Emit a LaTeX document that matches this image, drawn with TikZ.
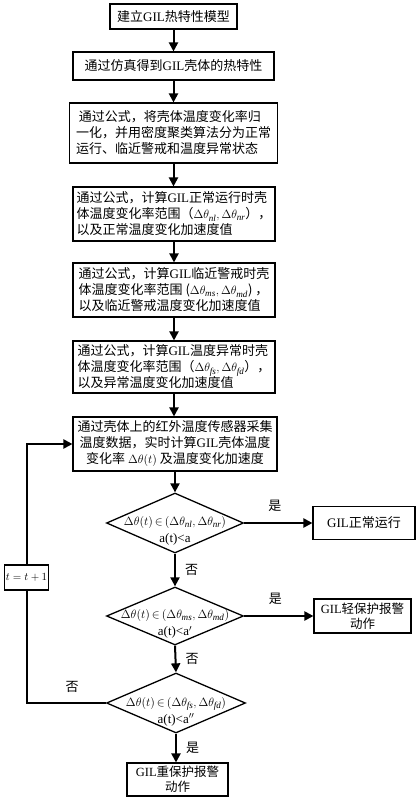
\documentclass[tikz,border=0pt]{standalone}
\usepackage{fontspec}
\setmainfont{Liberation Serif}
\newfontfamily\cjk{Noto Sans CJK SC}
\usetikzlibrary{shapes.geometric,arrows.meta}
\newcommand\gil{{\rmfamily GIL}}
\newcommand\dt[1]{\Delta\theta_{\mathit{#1}}}
\newcommand\inn{\mathord{\,\in\,}}
\begin{document}
\begin{tikzpicture}[x=1pt,y=-1pt,
  box/.style={draw, line width=1.1pt, inner sep=2pt, font=\cjk\fontsize{13}{16}\selectfont},
  dia/.style={draw, diamond, line width=1.3pt, inner sep=0pt},
  dtext/.style={font=\fontsize{13}{17}\selectfont, align=center, inner sep=0pt},
  arr/.style={line width=2pt, -{Triangle[length=9pt,width=9pt]}},
  lin/.style={line width=2pt},
  lbl/.style={font=\cjk\fontsize{13}{16}\selectfont, inner sep=0pt}]
\useasboundingbox (0,0) rectangle (420,800);
\node[box, minimum width=127pt, minimum height=25pt] (b1) at (173.5,16.5) {建立\gil 热特性模型};
\node[box, minimum width=201pt, minimum height=28pt] (b2) at (173.5,66) {通过仿真得到\gil 壳体的热特性};
\node[box, minimum width=208pt, minimum height=60pt, align=left] (b3) at (173.5,133) {\ 通过公式，将壳体温度变化率归\\一化，并用密度聚类算法分为正常\\运行、临近警戒和温度异常状态};
\node[box, minimum width=202pt, minimum height=54pt, align=left] (b4) at (174,214) {通过公式，计算\gil 正常运行时壳\\体温度变化率范围（$\dt{nl},\dt{nr}$），\\以及正常温度变化加速度值};
\node[box, minimum width=202pt, minimum height=54pt, align=left] (b5) at (174,290) {通过公式，计算\gil 临近警戒时壳\\体温度变化率范围 ($\dt{ms},\dt{md}$) ，\\以及临近警戒温度变化加速度值};
\node[box, minimum width=202pt, minimum height=52pt, align=left] (b6) at (174,367) {通过公式，计算\gil 温度异常时壳\\体温度变化率范围（$\dt{fs},\dt{fd}$），\\以及异常温度变化加速度值};
\node[box, minimum width=204pt, minimum height=54pt, align=center] (b7) at (175,444) {通过壳体上的红外温度传感器采集\\温度数据，实时计算\gil 壳体温度\\变化率 $\Delta\theta(t)$ 及温度变化加速度};
\node[dia, minimum width=137pt, minimum height=60pt] (d1) at (175,523) {};
\node[dtext] (t1) at (175,531) {$\Delta\theta(t)\inn(\dt{nl},\dt{nr})$\\a(t)<a};
\node[box, minimum width=102pt, minimum height=33pt] (b8) at (364,523) {\gil 正常运行};
\node[dia, minimum width=137pt, minimum height=58pt] (d2) at (175,616) {};
\node[dtext] (t2) at (175,624) {$\Delta\theta(t)\inn(\dt{ms},\dt{md})$\\a(t)<a$'$};
\node[box, minimum width=97pt, minimum height=34pt, align=center, font=\cjk\fontsize{12.5}{15}\selectfont] (b9) at (362.5,616) {\gil 轻保护报警\\动作};
\node[dia, minimum width=139pt, minimum height=60pt] (d3) at (176,703) {};
\node[dtext] (t3) at (176,711.5) {$\Delta\theta(t)\inn(\dt{fs},\dt{fd})$\\a(t)<a$''$};
\node[box, minimum width=101pt, minimum height=33pt, align=center, font=\cjk\fontsize{12.5}{15}\selectfont] (b10) at (177.5,779.5) {\gil 重保护报警\\动作};
\node[box, minimum width=44pt, minimum height=25pt, inner sep=1pt, font=\fontsize{11}{13}\selectfont] (tb) at (26.5,577.5) {$t=t+1$};
\draw[arr] (b1.south) -- (b1.south |- b2.north);
\draw[arr] (b2.south) -- (b2.south |- b3.north);
\draw[arr] (b3.south) -- (b3.south |- b4.north);
\draw[arr] (b4.south) -- (b4.south |- b5.north);
\draw[arr] (b5.south) -- (b5.south |- b6.north);
\draw[arr] (b6.south) -- (b6.south |- b7.north);
\draw[arr] (b7.south) -- (d1.north);
\draw[arr] (d1.east) -- (b8.west) node[lbl, pos=0.45, above=10pt] (y1) {是};
\draw[arr] (d1.south) -- (d2.north) node[lbl, midway, right=9pt] (n1) {否};
\draw[arr] (d2.east) -- (b9.west) node[lbl, pos=0.45, above=10pt] (y2) {是};
\draw[arr] (d2.south) -- (d3.north) node[lbl, midway, right=9pt] (n2) {否};
\draw[arr] (d3.south) -- (d3.south |- b10.north) node[lbl, midway, right=9pt] (y3) {是};
\draw[lin] (d3.west) -| (tb.south);
\draw[arr] (tb.north) |- (b7.west);
\node[lbl] (n3) at (72,687) {否};
\end{tikzpicture}
\end{document}
